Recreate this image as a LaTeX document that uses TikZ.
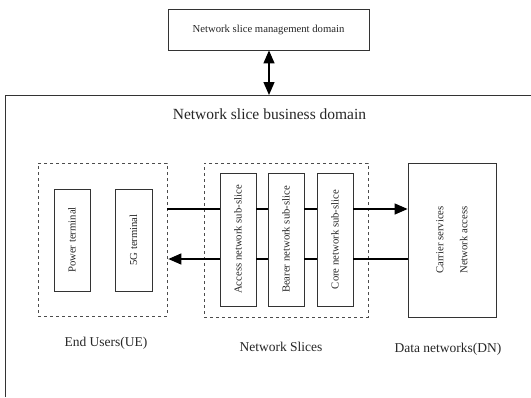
\documentclass[tikz,border=0pt]{standalone}
\usepackage{fontspec}
\setmainfont{Liberation Serif}
\usetikzlibrary{arrows.meta}
\begin{document}
\begin{tikzpicture}[x=1pt,y=-1pt,
  box/.style={draw=black!80,line width=0.8pt,minimum width=0pt,minimum height=0pt,inner sep=0pt},
  dbox/.style={draw=black!70,dashed,line width=0.7pt,inner sep=0pt},
  conn/.style={line width=1.3pt},
  tip/.style={-{Triangle[length=13pt,width=11pt]}},
  vtxt/.style={rotate=90,font=\fontsize{10.7}{24}\selectfont,text=black!85},
  lbl/.style={font=\fontsize{13.5}{15}\selectfont,text=black!85}]
\useasboundingbox (0,0) rectangle (531,397);
% management domain
\node[box,minimum width=201pt,minimum height=41pt,font=\fontsize{10.7}{12}\selectfont,text=black!85] (mgmt) at (268.5,29.5) {Network slice management domain};
% outer business domain (cropped)
\coordinate (otl) at (5,95);
\coordinate (otr) at (531,95);
\coordinate (obl) at (5,397);
\draw[line width=0.8pt,black!80] (obl) -- (otl) -- (otr);
\coordinate (btop) at (269,95);
\draw[conn,{Triangle[length=13pt,width=11pt]}-{Triangle[length=13pt,width=11pt]}] (mgmt.south -| btop) -- (btop);
\node[font=\fontsize{15.5}{17}\selectfont,text=black!85] (title) at (269.5,114) {Network slice business domain};
% end users
\node[dbox,minimum width=129pt,minimum height=153pt] (ue) at (102.5,239.5) {};
\node[box,minimum width=36pt,minimum height=102pt] (pt) at (72,240) {};
\node[vtxt] at (pt) {Power terminal};
\node[box,minimum width=37pt,minimum height=102pt] (g5) at (133.5,240) {};
\node[vtxt] at (g5) {5G terminal};
% network slices
\node[dbox,minimum width=164pt,minimum height=154pt] (ns) at (286,240) {};
\node[box,minimum width=36pt,minimum height=133pt] (acc) at (238,239.5) {};
\node[vtxt] at (acc) {Access network sub-slice};
\node[box,minimum width=36pt,minimum height=133pt] (bea) at (286,239.5) {};
\node[vtxt] at (bea) {Bearer network sub-slice};
\node[box,minimum width=36pt,minimum height=133pt] (cor) at (335,239.5) {};
\node[vtxt] at (cor) {Core network sub-slice};
% data network
\node[box,minimum width=88pt,minimum height=154pt] (dn) at (452,240) {};
\node[vtxt,align=center] at (dn) {Carrier services\\Network access};
% connectors
\coordinate (up) at (0,209);
\coordinate (lo) at (0,259);
\draw[conn] (ue.east |- up) -- (acc.west |- up);
\draw[conn] (acc.east |- up) -- (bea.west |- up);
\draw[conn] (bea.east |- up) -- (cor.west |- up);
\draw[conn,tip] (cor.east |- up) -- (dn.west |- up);
\draw[conn] (dn.west |- lo) -- (cor.east |- lo);
\draw[conn] (cor.west |- lo) -- (bea.east |- lo);
\draw[conn] (bea.west |- lo) -- (acc.east |- lo);
\draw[conn,tip] (acc.west |- lo) -- ([xshift=1pt]ue.east |- lo);
% labels
\node[lbl] (l1) at (106,343) {End Users(UE)};
\node[lbl] (l2) at (281,347) {Network Slices};
\node[lbl] (l3) at (448,349) {Data networks(DN)};
\end{tikzpicture}
\end{document}
